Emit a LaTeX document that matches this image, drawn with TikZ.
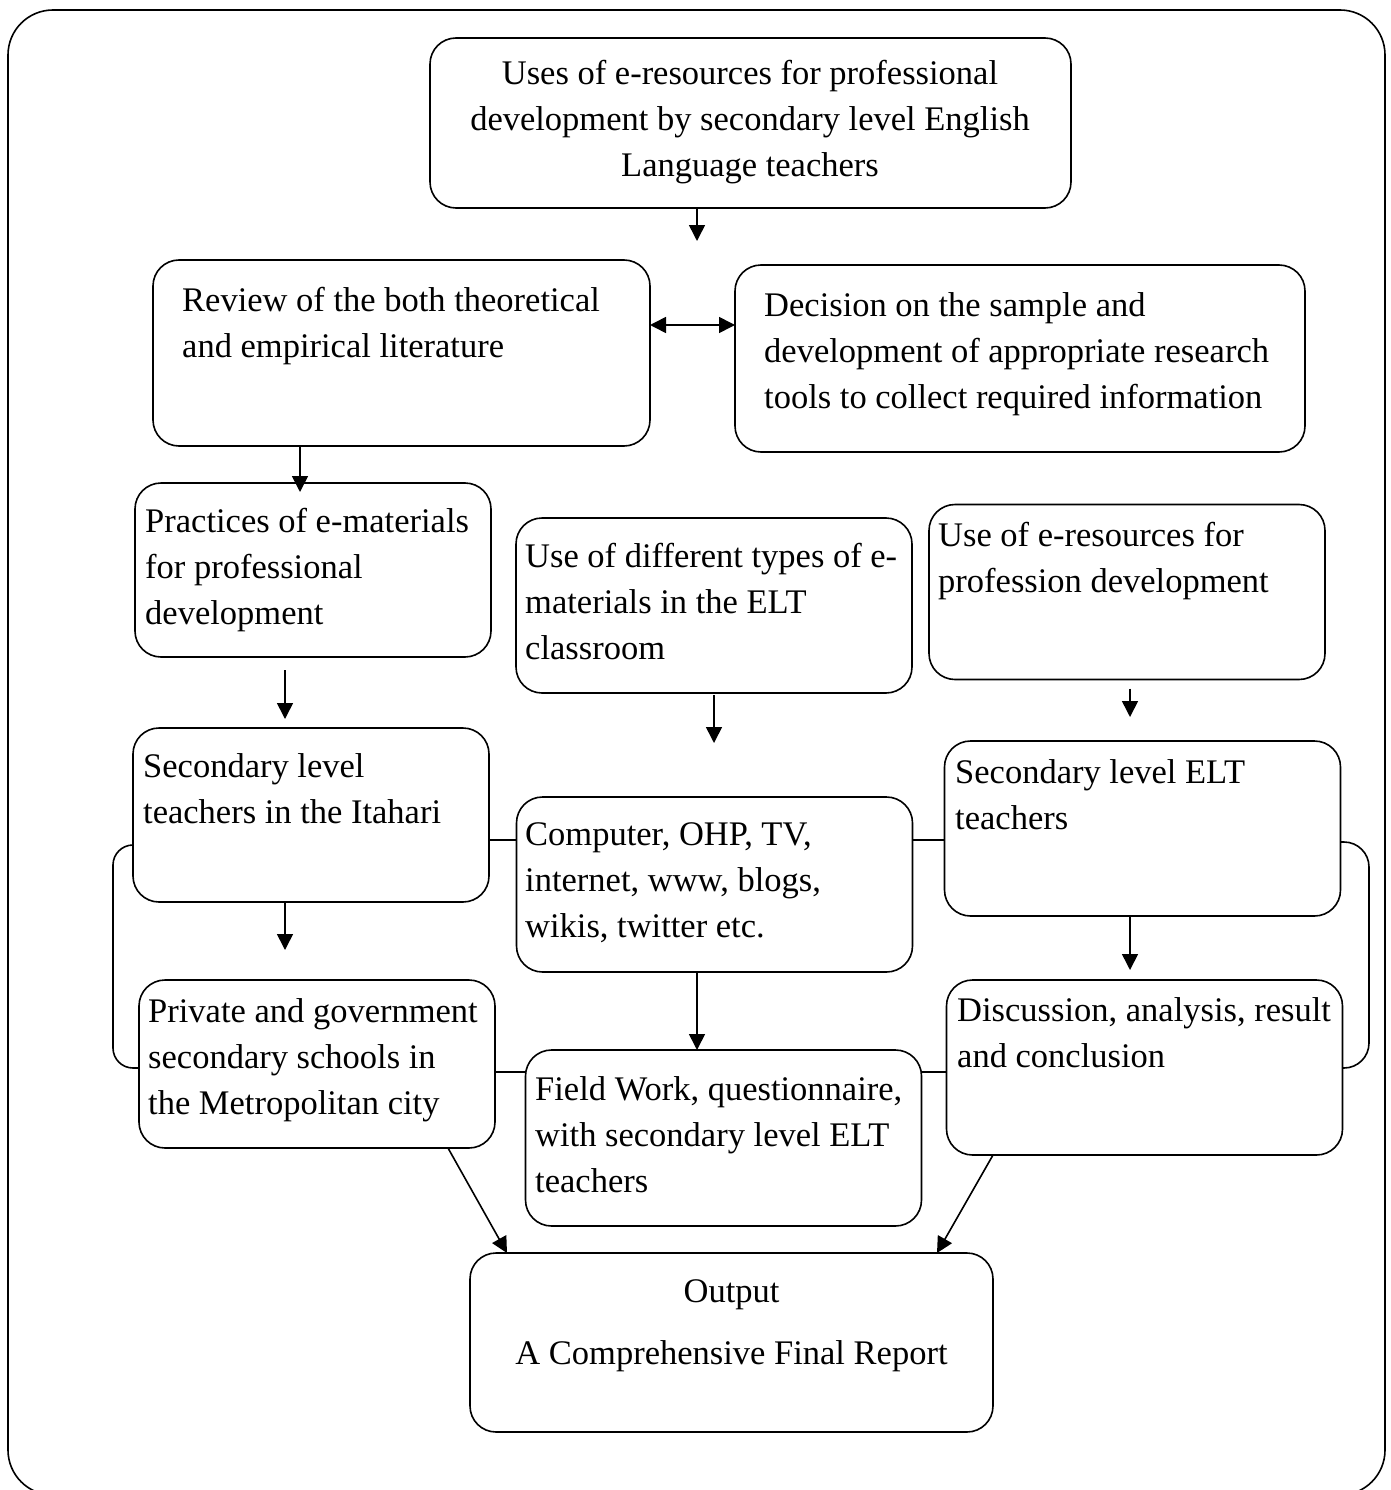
\documentclass[tikz,border=0pt]{standalone}
\usepackage{fontspec}
\setmainfont{Liberation Serif}
\usepackage{tikz}
\usetikzlibrary{arrows.meta, positioning}

\begin{document}
\begin{tikzpicture}[
        x=1pt, y=-1pt,
        box/.style={rectangle, draw=black, line width=1.6pt, rounded corners=26pt, inner sep=0pt, outer sep=0pt},
        narrow/.style={box, minimum width=356pt, minimum height=174pt},
        wide/.style={box, minimum width=396pt, minimum height=175pt},
        txt/.style={anchor=north west, align=left, inner sep=0pt, font=\fontsize{34.5}{46}\selectfont},
        txtc/.style={anchor=center, align=center, inner sep=0pt, font=\fontsize{34.5}{46}\selectfont},
        arrow/.style={-{Triangle[length=16pt, width=16pt]}, line width=1.6pt, draw=black},
        arrows2/.style={{Triangle[length=16pt, width=16pt]}-{Triangle[length=16pt, width=16pt]}, line width=1.6pt, draw=black},
        link/.style={line width=1.6pt, draw=black}
    ]
    \useasboundingbox (0,0) rectangle (1391,1490);
    % outer frame
    \draw[line width=1.6pt, rounded corners=45pt] (8,10) rectangle (1385,1495);

    % top
    \node[box, minimum width=641pt, minimum height=170pt] (T) at (750.5,123) {};
    \node[txtc] (Tt) at (750,122) {Uses of e-resources for professional\\development by secondary level English\\Language teachers};

    % second row
    \node[box, minimum width=497pt, minimum height=186pt] (R) at (401.5,353) {};
    \node[txt] (Rt) at (182,287) {Review of the both theoretical\\and empirical literature};
    \node[box, minimum width=570pt, minimum height=187pt] (D) at (1020,358.5) {};
    \node[txt] (Dt) at (764,292) {Decision on the sample and\\development of appropriate research\\tools to collect required information};

    % third row
    \node[narrow] (P) at (313,570) {};
    \node[txt] (Pt) at (145,508) {Practices of e-materials\\for professional\\development};
    \node[wide] (U) at (714,605.5) {};
    \node[txt] (Ut) at (525,543) {Use of different types of e-\\materials in the ELT\\classroom};
    \node[wide] (E) at (1127,592) {};
    \node[txt] (Et) at (938,522) {Use of e-resources for\\profession development};

    % fourth row
    \node[narrow] (S) at (311,815) {};
    \node[txt] (St) at (143,753) {Secondary level\\teachers in the Itahari};
    \node[wide] (C) at (714.5,884.5) {};
    \node[txt] (Ct) at (525,822) {Computer, OHP, TV,\\internet, www, blogs,\\wikis, twitter etc.};
    \node[wide] (L) at (1142.5,828.5) {};
    \node[txt] (Lt) at (955,759) {Secondary level ELT\\teachers};

    % fifth row
    \node[narrow, minimum height=168pt] (V) at (317,1064) {};
    \node[txt] (Vt) at (148,998) {Private and government\\secondary schools in\\the Metropolitan city};
    \node[wide, minimum height=176pt] (F) at (723.5,1138) {};
    \node[txt] (Ft) at (535,1076) {Field Work, questionnaire,\\with secondary level ELT\\teachers};
    \node[wide] (Q) at (1144.5,1067.5) {};
    \node[txt] (Qt) at (957,997) {Discussion, analysis, result\\and conclusion};

    % output
    \node[box, minimum width=523pt, minimum height=179pt] (O) at (731.5,1342.5) {};
    \node[txtc] (Ot) at (731.5,1326) {Output\\[16pt]A Comprehensive Final Report};

    % arrows
    \coordinate (t1) at (697,241);
    \draw[arrow] (T.south -| t1) -- (t1);
    \draw[arrows2] (R.east |- 0,325) -- (D.west |- 0,325);
    \draw[arrow, shorten >=-9pt] (R.south -| 300,0) -- (P.north -| 300,0);
    \draw[arrow, shorten <=13pt, shorten >=9pt] (P.south -| 285,0) -- (S.north -| 285,0);
    \draw[arrow, shorten <=2pt, shorten >=54pt] (U.south -| 714,0) -- (C.north -| 714,0);
    \draw[arrow, shorten <=9pt, shorten >=24pt] (E.south -| 1130,0) -- (L.north -| 1130,0);
    \draw[arrow, shorten >=30pt] (S.south -| 285,0) -- (V.north -| 285,0);
    \draw[arrow] (C.south -| 697,0) -- (F.north -| 697,0);
    \draw[arrow, shorten >=10pt] (L.south -| 1130,0) -- (Q.north -| 1130,0);
    \draw[arrow] ([xshift=131pt]V.south) -- ([xshift=-224.5pt]O.north);
    \draw[arrow] ([xshift=-151.5pt]Q.south) -- ([xshift=205.5pt]O.north);

    % links
    \draw[link] (S.east |- 0,840) -- (C.west |- 0,840);
    \draw[link] (C.east |- 0,840) -- (L.west |- 0,840);
    \draw[link] (V.east |- 0,1072) -- (F.west |- 0,1072);
    \draw[link] (F.east |- 0,1072) -- (Q.west |- 0,1072);
    \draw[link, rounded corners=20pt] (S.west |- 0,845) -- (113,845) -- (113,1068) -- (V.west |- 0,1068);
    \draw[link, rounded corners=25pt] (L.east |- 0,842) -- (1369,842) -- (1369,1068) -- (Q.east |- 0,1068);
\end{tikzpicture}
\end{document}
